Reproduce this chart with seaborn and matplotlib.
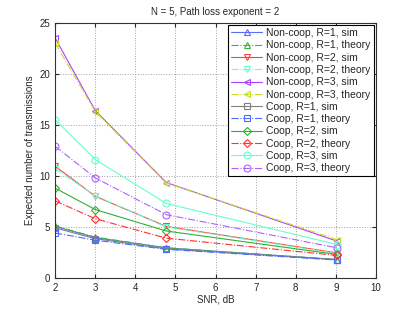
import matplotlib
matplotlib.use("Agg")
import matplotlib.pyplot as plt
import seaborn as sns
import pandas as pd

snr = [2, 3, 4.77, 9.03]

labels = ["Non-coop, R=1, sim", "Non-coop, R=1, theory",
          "Non-coop, R=2, sim", "Non-coop, R=2, theory",
          "Non-coop, R=3, sim", "Non-coop, R=3, theory",
          "Coop, R=1, sim", "Coop, R=1, theory",
          "Coop, R=2, sim", "Coop, R=2, theory",
          "Coop, R=3, sim", "Coop, R=3, theory"]

noncoop_r1_sim = [5.05, 3.95, 2.95, 1.8]
noncoop_r1_theory = [5.1, 4.0, 2.95, 1.8]
noncoop_r2_sim = [10.95, 8.0, 5.05, 2.45]
noncoop_r2_theory = [10.7, 8.05, 5.0, 2.4]
noncoop_r3_sim = [23.5, 16.4, 9.35, 3.6]
noncoop_r3_theory = [23.0, 16.3, 9.3, 3.75]
coop_r1_sim = [4.9, 3.85, 2.85, 1.8]
coop_r1_theory = [4.4, 3.7, 2.8, 1.75]
coop_r2_sim = [8.8, 6.7, 4.6, 2.3]
coop_r2_theory = [7.55, 5.8, 3.9, 2.2]
coop_r3_sim = [15.5, 11.6, 7.3, 3.27]
coop_r3_theory = [12.9, 9.8, 6.2, 2.95]

series = [noncoop_r1_sim, noncoop_r1_theory, noncoop_r2_sim, noncoop_r2_theory,
          noncoop_r3_sim, noncoop_r3_theory, coop_r1_sim, coop_r1_theory,
          coop_r2_sim, coop_r2_theory, coop_r3_sim, coop_r3_theory]

colors = ["#5b6cff", "#3cb43c", "#ff4040", "#66ffcc", "#b040ff", "#c8dc28",
          "#808080", "#4a6cff", "#30b030", "#ff3030", "#66ffcc", "#b060ff"]
markers = ["^", "^", "v", "v", "<", "<", "s", "s", "D", "D", "o", "o"]
sizes = [5, 5, 5, 5, 5, 5, 4.5, 4.5, 4, 4, 5, 5]
styles = ["-", "-.", "-", "-.", "-", "-.", "-", "-.", "-", "-.", "-", "-."]

sns.set_style("ticks")
plt.rcParams['font.family'] = ['Liberation Sans', 'DejaVu Sans']

fig = plt.figure(figsize=(4.15, 3.13), dpi=100)
ax = fig.add_axes([0.133, 0.112, 0.773, 0.815])

for lab, vals, c, m, ms, ls in zip(labels, series, colors, markers, sizes, styles):
    df = pd.DataFrame({"snr": snr, "val": vals})
    sns.lineplot(data=df, x="snr", y="val", ax=ax, color=c, marker=m,
                 linestyle=ls, linewidth=0.8, markersize=ms,
                 markerfacecolor="none", markeredgecolor=c,
                 markeredgewidth=0.8, label=lab)

ax.set_xlim(2, 10)
ax.set_ylim(0, 25)
ax.set_xticks(range(2, 11))
ax.set_yticks([0, 5, 10, 15, 20, 25])
ax.grid(True, linestyle=":", color="#a0a0a0", linewidth=0.7)
ax.tick_params(direction="in", labelsize=7, length=3, top=True, right=True)
for s in ax.spines.values():
    s.set_linewidth(0.8)
    s.set_color("#333333")
ax.set_xlabel("SNR, dB", fontsize=7, labelpad=1)
ax.set_ylabel("Expected number of transmissions", fontsize=7, labelpad=3)
ax.set_title("N = 5, Path loss exponent = 2", fontsize=7, pad=6)

leg = ax.legend(loc="upper right", fontsize=7.5, handlelength=3.0,
                labelspacing=0.22, borderpad=0.3, handletextpad=0.4,
                borderaxespad=0.2, fancybox=False, framealpha=1)
leg.get_frame().set_edgecolor("black")
leg.get_frame().set_linewidth(0.8)

fig.savefig("out.png", dpi=100)
